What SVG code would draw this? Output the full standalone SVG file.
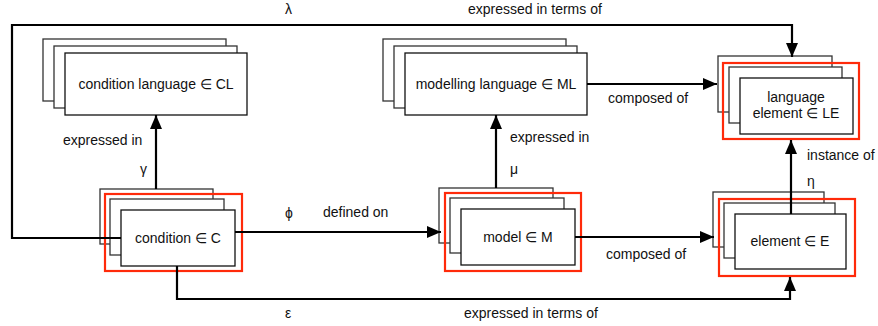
<svg xmlns="http://www.w3.org/2000/svg" width="878" height="326" viewBox="0 0 878 326">
<style>
text{font-family:"Liberation Sans",Arial,sans-serif;font-size:14px;fill:#111}
.c{text-anchor:middle}
.bk{fill:#fff;stroke:#333;stroke-width:1.3}
.fr{fill:#fff;stroke:#111;stroke-width:1.3}
.red{fill:none;stroke:#ff2a0a;stroke-width:2.2}
.ln{fill:none;stroke:#000;stroke-width:2.2}
</style>
<defs>
<marker id="ah" markerUnits="userSpaceOnUse" markerWidth="14" markerHeight="12" viewBox="0 0 14 12" refX="14" refY="6" orient="auto">
<path d="M0,0 L14,6 L0,12 Z" fill="#000"/>
</marker>
</defs>
<rect width="878" height="326" fill="#fff"/>
<g id="cl">
<rect class="bk" x="43" y="39" width="183" height="62"/>
<rect class="bk" x="54" y="46" width="183" height="62"/>
<rect class="fr" x="65" y="53" width="182" height="62"/>
<text class="c" x="156" y="89">condition language ∈ CL</text>
</g>
<g id="ml">
<rect class="bk" x="383" y="39" width="183" height="62"/>
<rect class="bk" x="394" y="46" width="183" height="62"/>
<rect class="fr" x="405" y="53" width="182" height="62"/>
<text class="c" x="496" y="89">modelling language ∈ ML</text>
</g>
<g id="le">
<rect class="bk" x="718" y="56" width="114" height="56"/>
<rect class="bk" x="729" y="67" width="113" height="56"/>
<rect class="fr" x="740" y="78" width="113" height="56"/>
<rect class="red" x="723" y="63" width="136" height="76"/>
<text class="c" x="796" y="102">language</text>
<text class="c" x="796" y="118">element ∈ LE</text>
</g>
<g id="cond">
<rect class="bk" x="100" y="189" width="113" height="55"/>
<rect class="bk" x="110" y="199" width="114" height="56"/>
<rect class="fr" x="121" y="210" width="114" height="56"/>
<rect class="red" x="105" y="194" width="137" height="77"/>
<text class="c" x="178" y="243">condition ∈ C</text>
</g>
<g id="model">
<rect class="bk" x="439" y="188" width="114" height="55"/>
<rect class="bk" x="450" y="198" width="114" height="55"/>
<rect class="fr" x="461" y="209" width="114" height="56"/>
<rect class="red" x="445" y="193" width="136" height="78"/>
<text class="c" x="518" y="242">model ∈ M</text>
</g>
<g id="elem">
<rect class="bk" x="713" y="192" width="111" height="55"/>
<rect class="bk" x="724" y="203" width="111" height="55"/>
<rect class="fr" x="735" y="214" width="111" height="55"/>
<rect class="red" x="719" y="199" width="136" height="77"/>
<text class="c" x="790" y="246">element ∈ E</text>
</g>
<g id="connectors">
<path class="ln" d="M121,238 H12 V25 H792 V57" marker-end="url(#ah)"/>
<path class="ln" d="M587,84 H717" marker-end="url(#ah)"/>
<path class="ln" d="M156,189 V115" marker-end="url(#ah)"/>
<path class="ln" d="M496,188 V115" marker-end="url(#ah)"/>
<path class="ln" d="M235,232 H441" marker-end="url(#ah)"/>
<path class="ln" d="M575,237 H714" marker-end="url(#ah)"/>
<path class="ln" d="M791,214 V140" marker-end="url(#ah)"/>
<path class="ln" d="M177,266 V299 H790 V277" marker-end="url(#ah)"/>
</g>
<g id="labels">
<text x="285" y="14">λ</text>
<text x="468" y="14">expressed in terms of</text>
<text x="63" y="145">expressed in</text>
<text x="140" y="174">γ</text>
<text x="285" y="218">ϕ</text>
<text x="323" y="217">defined on</text>
<text x="510" y="142">expressed in</text>
<text x="510" y="174">μ</text>
<text x="608" y="103">composed of</text>
<text x="807" y="160">instance of</text>
<text x="807" y="186">η</text>
<text x="606" y="259">composed of</text>
<text x="285" y="318">ε</text>
<text x="464" y="318">expressed in terms of</text>
</g>
</svg>
